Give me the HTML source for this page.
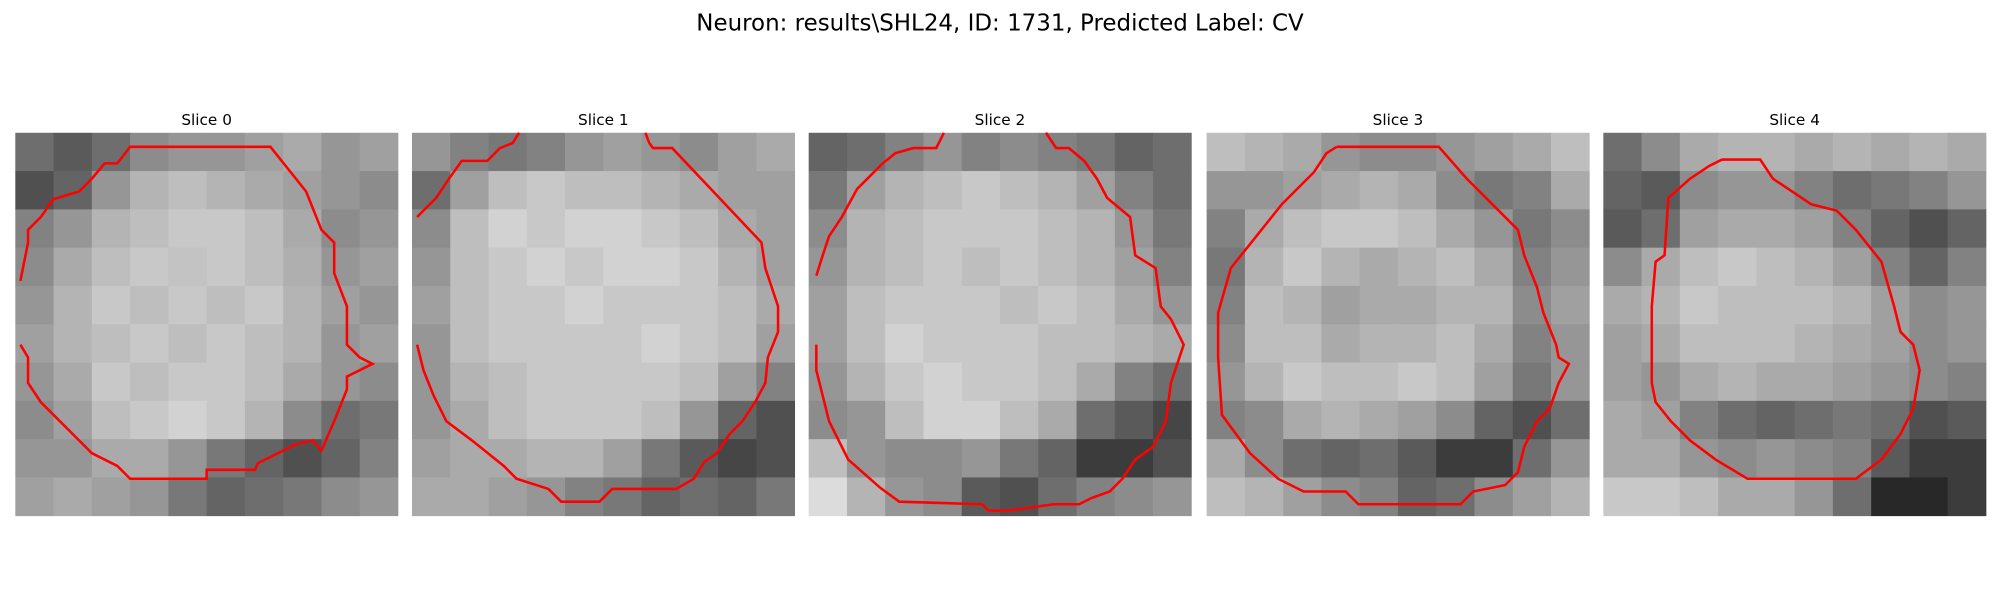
<!DOCTYPE html>
<html><head><meta charset="utf-8"><style>
html,body{margin:0;padding:0;background:#fff;}
svg{display:block;font-family:"DejaVu Sans","Liberation Sans",sans-serif;}
</style></head><body>
<svg id="fig" width="2000" height="600" viewBox="0 0 1568 470" preserveAspectRatio="none" xmlns="http://www.w3.org/2000/svg">
<text x="784" y="24" text-anchor="middle" font-size="18">Neuron: results\SHL24, ID: 1731, Predicted Label: CV</text>
</svg>
<script>
const sliceTitles = ["Slice 0","Slice 1","Slice 2","Slice 3","Slice 4"];
const imageSize = 30;
const intensity0 = [
[110,90,110,140,150,150,160,170,150,160],[80,100,150,180,190,180,170,160,150,140],[130,150,180,190,200,200,190,170,140,150],[140,170,190,200,195,200,190,175,150,160],[150,180,200,190,200,190,200,180,160,150],[160,180,190,200,190,200,190,180,150,160],[150,170,200,190,200,200,190,170,150,140],[140,160,190,200,210,200,180,140,110,120],[150,150,170,170,150,120,100,80,100,130],[160,170,160,150,120,100,110,120,140,150]];
const intensity1 = [
[150,130,120,130,150,160,150,140,160,170],[110,160,190,200,190,190,180,170,160,160],[140,190,210,200,210,210,200,190,170,160],[150,190,200,210,200,210,210,200,180,160],[160,190,200,200,210,200,200,200,190,170],[150,190,200,200,200,200,210,200,190,160],[150,180,190,200,200,200,200,190,160,130],[150,170,190,200,200,200,190,150,100,80],[160,170,170,180,180,160,120,90,70,80],[170,170,160,150,130,120,100,110,100,120]];
const intensity2 = [
[100,110,130,150,130,140,130,120,100,110],[120,160,180,190,200,190,180,160,130,110],[140,180,190,200,200,200,190,180,150,120],[150,180,190,200,190,200,190,180,160,130],[160,190,200,200,200,190,200,190,170,150],[160,190,210,200,200,200,190,190,180,170],[150,180,200,210,200,200,190,170,130,110],[140,150,190,210,210,190,170,110,90,70],[190,150,140,140,150,120,100,60,60,80],[220,180,150,140,90,80,110,130,140,150]];
const intensity3 = [
[190,180,170,150,140,140,150,160,170,190],[150,150,160,170,180,170,140,120,130,170],[130,170,190,200,200,190,170,150,120,140],[120,180,200,180,170,180,190,170,130,150],[130,190,180,160,170,170,180,180,140,160],[140,190,190,170,180,180,190,170,130,150],[150,180,200,190,190,200,190,160,120,150],[130,140,170,180,170,160,140,100,80,110],[170,140,110,100,110,90,60,60,110,150],[190,180,160,140,130,100,110,140,160,180]];
const intensity4 = [
[110,140,170,180,180,170,180,170,180,170],[100,90,140,150,150,130,110,120,130,150],[90,110,160,170,170,160,130,100,80,100],[140,170,190,200,190,180,160,130,100,130],[170,180,200,190,190,190,180,160,140,150],[160,170,190,190,190,180,170,160,140,150],[160,150,170,180,170,170,160,150,140,130],[170,160,130,110,100,110,120,110,80,90],[170,170,150,140,150,140,130,90,60,60],[200,200,190,170,170,150,110,40,40,60]];
const contour0 = [[[0.4,16.6],[1,17.6],[1,19.6],[2,21.1],[4,23.1],[6,25.1],[8,26.1],[9,27.1],[15,27.1],[15,26.4],[18.8,26.4],[19,25.9],[20,25.4],[21,24.9],[22,24.4],[23.3,24.1],[24,24.9],[25,22.6],[26,20.1],[26,19.1],[28,18.1],[27,17.6],[26,16.6],[26,13.6],[25,11],[25,8.6],[24,7.6],[22.8,4.6],[20,1.1],[9,1.1],[8,2.4],[7,2.4],[6,3.6],[5,4.6],[3,5.2],[2,6.6],[1,7.6],[1,8.6],[0.4,11.6]]];
const contour1 = [[[0.4,16.6],[0.9,18.6],[1.7,20.6],[2.7,22.6],[4.7,24.1],[7.2,26.1],[8.2,27.1],[10.7,27.9],[11.7,28.9],[14.7,28.9],[15.7,27.9],[20.7,27.9],[22.1,27.1],[22.9,25.8],[23.9,25.1],[24.9,23.6],[25.9,22.6],[26.9,21.1],[27.7,19.6],[27.9,17.6],[28.7,15.6],[28.7,13.6],[27.7,10.6],[27.4,8.6],[20.4,1.2],[18.9,1.2],[18.6,0.8],[18.3,0]],[[8.4,0],[7.9,0.8],[6.9,1.2],[5.9,2.2],[3.9,2.2],[2.9,3.6],[1.9,5.1],[0.4,6.6]]];
const contour2 = [[[0.6,11.2],[1.1,9.6],[1.6,8.1],[2.6,6.6],[3.8,4.4],[4.8,3.4],[5.8,2.4],[6.8,1.6],[8.2,1.2],[10,1.2],[10.6,0]],[[0.6,16.6],[0.6,18.6],[1.6,22.6],[3.1,25.6],[5.6,27.8],[7.1,28.9],[13.6,29.1],[14.1,29.6],[15.6,29.6],[19.2,29.1],[21.2,29.1],[22.2,28.6],[23.6,28.1],[24.6,27.1],[25.6,25.6],[27,24.6],[28,22.6],[28.4,19.6],[29.4,16.6],[28.4,14.6],[27.6,13.6],[27.2,10.6],[25.6,9.6],[25.2,6.6],[23.4,5.1],[22.6,3.6],[21.6,2.2],[20.4,1.2],[19.4,1.2],[18.6,0]]];
const contour3 = [[[10.2,1.1],[18.2,1.1],[20.4,3.6],[21.4,4.6],[24.4,7.6],[24.9,9.6],[25.9,12.1],[26.4,14.1],[27.4,16.6],[27.6,17.6],[28.4,18.1],[27.6,19.6],[26.9,21.6],[25.9,22.6],[24.9,24.6],[24.4,26.6],[23.4,27.6],[20.9,28.1],[19.9,29.1],[11.9,29.1],[10.9,28.1],[7.6,28.1],[5.6,27.1],[3.4,25.1],[1.2,22.1],[0.9,17.6],[0.9,14.1],[1.9,10.6],[3.9,8.1],[5.9,5.6],[8.4,3.1],[9.4,1.6],[10.2,1.1]]];
const contour4 = [[[9.3,2.1],[12.3,2.1],[13.3,3.6],[14.8,4.6],[16.3,5.6],[18.3,6.1],[19.8,7.6],[21.8,10.1],[22.8,13.6],[23.3,15.6],[24.3,16.6],[24.8,18.6],[24.3,21.6],[23.3,23.6],[21.8,25.6],[19.8,27.1],[15.8,27.1],[11.3,27.1],[8.8,25.6],[6.8,24.1],[5.3,22.6],[4.1,21.1],[3.8,19.6],[3.8,13.6],[4.1,10.1],[4.8,9.6],[5.1,5.1],[6.8,3.6],[8.3,2.6],[9.3,2.1]]];

const intensities=[intensity0,intensity1,intensity2,intensity3,intensity4];
const contours=[contour0,contour1,contour2,contour3,contour4];
const NS="http://www.w3.org/2000/svg";
const fig=document.getElementById('fig');
const panelX=[12,323,634,946,1257], panelY=104, panelSize=300;
function mk(t,a){const e=document.createElementNS(NS,t);for(const k in a)e.setAttribute(k,a[k]);return e;}
sliceTitles.forEach((title,i)=>{
  const g=mk('g',{});
  
  
  fig.appendChild(g);
  const px=panelX[i];
  const sx=v=>px+v/imageSize*panelSize, sy=v=>panelY+v/imageSize*panelSize;
  const t=mk('text',{x:px+panelSize/2,y:98,'text-anchor':'middle','font-size':'12'});
  t.textContent=title;
  
  
  g.appendChild(t);
  const grid=intensities[i], n=grid.length, cs=imageSize/n;
  grid.forEach((row,r)=>row.forEach((v,c)=>{
    const x0=sx(c*cs), y0=sy(r*cs);
    const rect=mk('rect',{x:x0,y:y0,width:sx((c+1)*cs)-x0+0.3,height:sy((r+1)*cs)-y0+0.3,fill:`rgb(${v},${v},${v})`});
    
    
    g.appendChild(rect);
  }));
  contours[i].forEach(seg=>{
    const pl=mk('polyline',{points:seg.map(p=>sx(p[0])+','+sy(p[1])).join(' '),fill:'none',stroke:'#ff0000','stroke-width':'2','stroke-linejoin':'miter'});
    
    
    g.appendChild(pl);
  });
});
</script>
</body></html>
